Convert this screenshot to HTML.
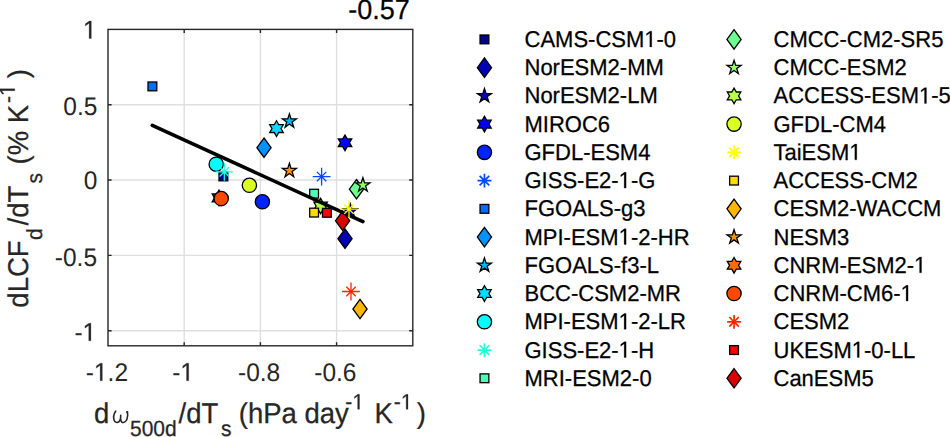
<!DOCTYPE html>
<html><head><meta charset="utf-8"><style>
html,body{margin:0;padding:0;background:#fff;width:950px;height:437px;overflow:hidden}
svg{display:block;font-family:"Liberation Sans",sans-serif;text-rendering:geometricPrecision}
text{stroke-width:0.25px}
.h1{fill-opacity:0;stroke-opacity:0}
</style></head><body>
<svg width="950" height="437" viewBox="0 0 950 437" font-family="Liberation Sans, sans-serif"><path d="M184.20 29.40V345.80M260.40 29.40V345.80M336.60 29.40V345.80M108.00 104.73H412.80M108.00 180.07H412.80M108.00 255.40H412.80M108.00 330.73H412.80" stroke="#dfdfdf" stroke-width="1.4" fill="none"/>
<rect x="219.00" y="172.00" width="8.80" height="8.80" fill="#000092" stroke="#000" stroke-width="1.30" stroke-linejoin="miter"/>
<polygon points="345.00,229.00 352.10,238.70 345.00,248.40 337.90,238.70" fill="#0000b6" stroke="#000" stroke-width="1.30" stroke-linejoin="miter"/>
<polygon points="350.20,203.60 351.86,208.71 357.24,208.71 352.89,211.87 354.55,216.99 350.20,213.83 345.85,216.99 347.51,211.87 343.16,208.71 348.54,208.71" fill="#0000db" stroke="#000" stroke-width="1.30" stroke-linejoin="miter"/>
<polygon points="345.00,135.00 347.25,138.90 351.75,138.90 349.50,142.80 351.75,146.70 347.25,146.70 345.00,150.60 342.75,146.70 338.25,146.70 340.50,142.80 338.25,138.90 342.75,138.90" fill="#0000ff" stroke="#000" stroke-width="1.30" stroke-linejoin="miter"/>
<circle cx="262.40" cy="201.80" r="7.15" fill="#0024ff" stroke="#000" stroke-width="1.30" stroke-linejoin="miter"/>
<rect x="148.00" y="82.00" width="8.80" height="8.80" fill="#006dff" stroke="#000" stroke-width="1.30" stroke-linejoin="miter"/>
<polygon points="264.00,138.00 271.10,147.70 264.00,157.40 256.90,147.70" fill="#0092ff" stroke="#000" stroke-width="1.30" stroke-linejoin="miter"/>
<polygon points="289.40,113.80 291.06,118.91 296.44,118.91 292.09,122.07 293.75,127.19 289.40,124.03 285.05,127.19 286.71,122.07 282.36,118.91 287.74,118.91" fill="#00b6ff" stroke="#000" stroke-width="1.30" stroke-linejoin="miter"/>
<polygon points="276.50,120.80 278.75,124.70 283.25,124.70 281.00,128.60 283.25,132.50 278.75,132.50 276.50,136.40 274.25,132.50 269.75,132.50 272.00,128.60 269.75,124.70 274.25,124.70" fill="#00dbff" stroke="#000" stroke-width="1.30" stroke-linejoin="miter"/>
<circle cx="216.20" cy="164.20" r="7.15" fill="#00ffff" stroke="#000" stroke-width="1.30" stroke-linejoin="miter"/>
<rect x="309.70" y="189.30" width="8.80" height="8.80" fill="#49ffb6" stroke="#000" stroke-width="1.30" stroke-linejoin="miter"/>
<polygon points="356.50,179.50 363.60,189.20 356.50,198.90 349.40,189.20" fill="#6dff92" stroke="#000" stroke-width="1.30" stroke-linejoin="miter"/>
<polygon points="362.90,177.70 364.56,182.81 369.94,182.81 365.59,185.97 367.25,191.09 362.90,187.93 358.55,191.09 360.21,185.97 355.86,182.81 361.24,182.81" fill="#92ff6d" stroke="#000" stroke-width="1.30" stroke-linejoin="miter"/>
<polygon points="320.60,198.20 322.85,202.10 327.35,202.10 325.10,206.00 327.35,209.90 322.85,209.90 320.60,213.80 318.35,209.90 313.85,209.90 316.10,206.00 313.85,202.10 318.35,202.10" fill="#b6ff49" stroke="#000" stroke-width="1.30" stroke-linejoin="miter"/>
<circle cx="249.40" cy="185.30" r="7.15" fill="#dbff24" stroke="#000" stroke-width="1.30" stroke-linejoin="miter"/>
<rect x="309.70" y="208.20" width="8.80" height="8.80" fill="#ffdb00" stroke="#000" stroke-width="1.30" stroke-linejoin="miter"/>
<polygon points="360.00,299.30 367.10,309.00 360.00,318.70 352.90,309.00" fill="#ffb600" stroke="#000" stroke-width="1.30" stroke-linejoin="miter"/>
<polygon points="289.40,163.30 291.06,168.41 296.44,168.41 292.09,171.57 293.75,176.69 289.40,173.53 285.05,176.69 286.71,171.57 282.36,168.41 287.74,168.41" fill="#ff9200" stroke="#000" stroke-width="1.30" stroke-linejoin="miter"/>
<polygon points="219.00,190.10 221.25,194.00 225.75,194.00 223.50,197.90 225.75,201.80 221.25,201.80 219.00,205.70 216.75,201.80 212.25,201.80 214.50,197.90 212.25,194.00 216.75,194.00" fill="#ff6d00" stroke="#000" stroke-width="1.30" stroke-linejoin="miter"/>
<circle cx="221.20" cy="198.60" r="7.15" fill="#ff4900" stroke="#000" stroke-width="1.30" stroke-linejoin="miter"/>
<rect x="322.50" y="208.40" width="8.80" height="8.80" fill="#ff0000" stroke="#000" stroke-width="1.30" stroke-linejoin="miter"/>
<polygon points="342.60,211.10 349.70,220.80 342.60,230.50 335.50,220.80" fill="#db0000" stroke="#000" stroke-width="1.30" stroke-linejoin="miter"/>
<path d="M152.3 125.4L362.9 221.6" stroke="#000" stroke-width="3.6" stroke-linecap="round" fill="none"/>
<path d="M312.70 176.60H330.50M321.60 167.70V185.50M316.90 171.90L326.30 181.30M316.90 181.30L326.30 171.90" stroke="#0049ff" stroke-width="1.30" fill="none"/>
<path d="M215.40 171.80H233.20M224.30 162.90V180.70M219.60 167.10L229.00 176.50M219.60 176.50L229.00 167.10" stroke="#24ffdb" stroke-width="1.30" fill="none"/>
<path d="M340.10 209.20H357.90M349.00 200.30V218.10M344.30 204.50L353.70 213.90M344.30 213.90L353.70 204.50" stroke="#ffff00" stroke-width="1.30" fill="none"/>
<path d="M342.10 291.50H359.90M351.00 282.60V300.40M346.30 286.80L355.70 296.20M346.30 296.20L355.70 286.80" stroke="#ff2400" stroke-width="1.30" fill="none"/>
<path d="M184.20 345.80V342.20M184.20 29.40V33.00M260.40 345.80V342.20M260.40 29.40V33.00M336.60 345.80V342.20M336.60 29.40V33.00M108.00 104.73H111.60M412.80 104.73H409.20M108.00 180.07H111.60M412.80 180.07H409.20M108.00 255.40H111.60M412.80 255.40H409.20M108.00 330.73H111.60M412.80 330.73H409.20" stroke="#262626" stroke-width="1.4" fill="none"/>
<rect x="108.00" y="29.40" width="304.80" height="316.40" stroke="#262626" stroke-width="1.4" fill="none"/>
<g font-size="24.5" fill="#262626"><text transform="translate(85.81 380.70) scale(1 1.040)">-<tspan class="h1">1</tspan>.2</text><text transform="translate(172.21 380.70) scale(1 1.040)">-<tspan class="h1">1</tspan></text><text transform="translate(237.98 380.70) scale(1 1.040)">-0.8</text><text transform="translate(314.24 380.70) scale(1 1.040)">-0.6</text><text transform="translate(82.97 38.52) scale(1 1.040)"><tspan class="h1">1</tspan></text><text transform="translate(63.37 114.97) scale(1 1.040)">0.5</text><text transform="translate(83.73 189.47) scale(1 1.040)">0</text><text transform="translate(54.81 265.67) scale(1 1.040)">-0.5</text><text transform="translate(74.42 340.77) scale(1 1.040)">-<tspan class="h1">1</tspan></text></g>
<text transform="translate(409.80 18.60) scale(1 1.040)" text-anchor="end" font-size="27" fill="#000" stroke="#000">-0.57</text>
<path d="M115.7 411.2C114.0 413.5 113.2 417.5 114.2 420.6C115.0 423.0 118.6 423.2 119.8 420.6C120.6 418.8 120.8 416.5 120.7 415.2C120.5 417.5 120.4 420.5 121.6 421.8C123.3 423.4 126.0 422.0 127.0 419.0C127.8 416.8 127.8 413.5 127.3 412.0" fill="none" stroke="#262626" stroke-width="1.6" stroke-linecap="round" stroke-linejoin="round"/><circle cx="127.2" cy="412.1" r="1.15" fill="#262626"/>
<g fill="#262626" stroke="#262626"><text transform="translate(94.05 423.30) scale(1 1.040)" font-size="27.5">d</text><text transform="translate(129.96 436.00) scale(1 1.040)" font-size="21.0">500d</text><text transform="translate(178.60 423.30) scale(1 1.040)" font-size="27.5">/dT</text><text transform="translate(220.92 436.00) scale(1 1.040)" font-size="21.0">s</text><text transform="translate(238.79 423.30) scale(1 1.040)" font-size="27.5">(hPa day</text><text transform="translate(345.37 409.30) scale(1 1.040)" font-size="21.0">-<tspan class="h1">1</tspan></text><text transform="translate(374.54 423.30) scale(1 1.040)" font-size="27.5">K</text><text transform="translate(393.87 409.30) scale(1 1.040)" font-size="21.0">-<tspan class="h1">1</tspan></text><text transform="translate(416.74 423.30) scale(1 1.040)" font-size="27.5">)</text></g>
<g fill="#262626" stroke="#262626" transform="translate(28.40,306.50) rotate(-90)"><text transform="translate(-1.15 0.00) scale(1 1.040)" font-size="27.5">dLCF</text><text transform="translate(66.42 13.60) scale(1 1.040)" font-size="21.0">d</text><text transform="translate(81.00 0.00) scale(1 1.040)" font-size="27.5">/dT</text><text transform="translate(123.02 13.60) scale(1 1.040)" font-size="21.0">s</text><text transform="translate(141.99 0.00) scale(1 1.040)" font-size="27.5">(%</text><text transform="translate(183.24 0.00) scale(1 1.040)" font-size="27.5">K</text><text transform="translate(203.57 -13.60) scale(1 1.040)" font-size="21.0">-<tspan class="h1">1</tspan></text><text transform="translate(228.34 0.00) scale(1 1.040)" font-size="27.5">)</text></g>
<rect x="480.05" y="35.00" width="8.80" height="8.80" fill="#000092" stroke="#000" stroke-width="1.30" stroke-linejoin="miter"/><text transform="translate(524.50 46.90) scale(1 1.040)" font-size="22" fill="#000" stroke="#000">CAMS-CSM<tspan class="h1">1</tspan>-0</text><polygon points="484.45,57.94 491.55,67.64 484.45,77.34 477.35,67.64" fill="#0000b6" stroke="#000" stroke-width="1.30" stroke-linejoin="miter"/><text transform="translate(524.50 75.14) scale(1 1.040)" font-size="22" fill="#000" stroke="#000">NorESM2-MM</text><polygon points="484.45,88.48 486.11,93.59 491.49,93.59 487.14,96.75 488.80,101.87 484.45,98.71 480.10,101.87 481.76,96.75 477.41,93.59 482.79,93.59" fill="#0000db" stroke="#000" stroke-width="1.30" stroke-linejoin="miter"/><text transform="translate(524.50 103.38) scale(1 1.040)" font-size="22" fill="#000" stroke="#000">NorESM2-LM</text><polygon points="484.45,116.32 486.70,120.22 491.20,120.22 488.95,124.12 491.20,128.02 486.70,128.02 484.45,131.92 482.20,128.02 477.70,128.02 479.95,124.12 477.70,120.22 482.20,120.22" fill="#0000ff" stroke="#000" stroke-width="1.30" stroke-linejoin="miter"/><text transform="translate(524.50 131.62) scale(1 1.040)" font-size="22" fill="#000" stroke="#000">MIROC6</text><circle cx="484.45" cy="152.36" r="7.15" fill="#0024ff" stroke="#000" stroke-width="1.30" stroke-linejoin="miter"/><text transform="translate(524.50 159.86) scale(1 1.040)" font-size="22" fill="#000" stroke="#000">GFDL-ESM4</text><path d="M477.55 180.60H491.35M484.45 173.70V187.50M479.65 175.80L489.25 185.40M479.65 185.40L489.25 175.80" stroke="#0049ff" stroke-width="1.70" fill="none"/><text transform="translate(524.50 188.10) scale(1 1.040)" font-size="22" fill="#000" stroke="#000">GISS-E2-<tspan class="h1">1</tspan>-G</text><rect x="480.05" y="204.44" width="8.80" height="8.80" fill="#006dff" stroke="#000" stroke-width="1.30" stroke-linejoin="miter"/><text transform="translate(524.50 216.34) scale(1 1.040)" font-size="22" fill="#000" stroke="#000">FGOALS-g3</text><polygon points="484.45,227.38 491.55,237.08 484.45,246.78 477.35,237.08" fill="#0092ff" stroke="#000" stroke-width="1.30" stroke-linejoin="miter"/><text transform="translate(524.50 244.58) scale(1 1.040)" font-size="22" fill="#000" stroke="#000">MPI-ESM<tspan class="h1">1</tspan>-2-HR</text><polygon points="484.45,257.92 486.11,263.03 491.49,263.03 487.14,266.19 488.80,271.31 484.45,268.15 480.10,271.31 481.76,266.19 477.41,263.03 482.79,263.03" fill="#00b6ff" stroke="#000" stroke-width="1.30" stroke-linejoin="miter"/><text transform="translate(524.50 272.82) scale(1 1.040)" font-size="22" fill="#000" stroke="#000">FGOALS-f3-L</text><polygon points="484.45,285.76 486.70,289.66 491.20,289.66 488.95,293.56 491.20,297.46 486.70,297.46 484.45,301.36 482.20,297.46 477.70,297.46 479.95,293.56 477.70,289.66 482.20,289.66" fill="#00dbff" stroke="#000" stroke-width="1.30" stroke-linejoin="miter"/><text transform="translate(524.50 301.06) scale(1 1.040)" font-size="22" fill="#000" stroke="#000">BCC-CSM2-MR</text><circle cx="484.45" cy="321.80" r="7.15" fill="#00ffff" stroke="#000" stroke-width="1.30" stroke-linejoin="miter"/><text transform="translate(524.50 329.30) scale(1 1.040)" font-size="22" fill="#000" stroke="#000">MPI-ESM<tspan class="h1">1</tspan>-2-LR</text><path d="M477.55 350.04H491.35M484.45 343.14V356.94M479.65 345.24L489.25 354.84M479.65 354.84L489.25 345.24" stroke="#24ffdb" stroke-width="1.70" fill="none"/><text transform="translate(524.50 357.54) scale(1 1.040)" font-size="22" fill="#000" stroke="#000">GISS-E2-<tspan class="h1">1</tspan>-H</text><rect x="480.05" y="373.88" width="8.80" height="8.80" fill="#49ffb6" stroke="#000" stroke-width="1.30" stroke-linejoin="miter"/><text transform="translate(524.50 385.78) scale(1 1.040)" font-size="22" fill="#000" stroke="#000">MRI-ESM2-0</text><polygon points="734.05,29.70 741.15,39.40 734.05,49.10 726.95,39.40" fill="#6dff92" stroke="#000" stroke-width="1.30" stroke-linejoin="miter"/><text transform="translate(773.50 46.90) scale(1 1.040)" font-size="22" fill="#000" stroke="#000">CMCC-CM2-SR5</text><polygon points="734.05,60.24 735.71,65.35 741.09,65.35 736.74,68.51 738.40,73.63 734.05,70.47 729.70,73.63 731.36,68.51 727.01,65.35 732.39,65.35" fill="#92ff6d" stroke="#000" stroke-width="1.30" stroke-linejoin="miter"/><text transform="translate(773.50 75.14) scale(1 1.040)" font-size="22" fill="#000" stroke="#000">CMCC-ESM2</text><polygon points="734.05,88.08 736.30,91.98 740.80,91.98 738.55,95.88 740.80,99.78 736.30,99.78 734.05,103.68 731.80,99.78 727.30,99.78 729.55,95.88 727.30,91.98 731.80,91.98" fill="#b6ff49" stroke="#000" stroke-width="1.30" stroke-linejoin="miter"/><text transform="translate(773.50 103.38) scale(1 1.040)" font-size="22" fill="#000" stroke="#000">ACCESS-ESM<tspan class="h1">1</tspan>-5</text><circle cx="734.05" cy="124.12" r="7.15" fill="#dbff24" stroke="#000" stroke-width="1.30" stroke-linejoin="miter"/><text transform="translate(773.50 131.62) scale(1 1.040)" font-size="22" fill="#000" stroke="#000">GFDL-CM4</text><path d="M727.15 152.36H740.95M734.05 145.46V159.26M729.25 147.56L738.85 157.16M729.25 157.16L738.85 147.56" stroke="#ffff00" stroke-width="1.70" fill="none"/><text transform="translate(773.50 159.86) scale(1 1.040)" font-size="22" fill="#000" stroke="#000">TaiESM<tspan class="h1">1</tspan></text><rect x="729.65" y="176.20" width="8.80" height="8.80" fill="#ffdb00" stroke="#000" stroke-width="1.30" stroke-linejoin="miter"/><text transform="translate(773.50 188.10) scale(1 1.040)" font-size="22" fill="#000" stroke="#000">ACCESS-CM2</text><polygon points="734.05,199.14 741.15,208.84 734.05,218.54 726.95,208.84" fill="#ffb600" stroke="#000" stroke-width="1.30" stroke-linejoin="miter"/><text transform="translate(773.50 216.34) scale(1 1.040)" font-size="22" fill="#000" stroke="#000">CESM2-WACCM</text><polygon points="734.05,229.68 735.71,234.79 741.09,234.79 736.74,237.95 738.40,243.07 734.05,239.91 729.70,243.07 731.36,237.95 727.01,234.79 732.39,234.79" fill="#ff9200" stroke="#000" stroke-width="1.30" stroke-linejoin="miter"/><text transform="translate(773.50 244.58) scale(1 1.040)" font-size="22" fill="#000" stroke="#000">NESM3</text><polygon points="734.05,257.52 736.30,261.42 740.80,261.42 738.55,265.32 740.80,269.22 736.30,269.22 734.05,273.12 731.80,269.22 727.30,269.22 729.55,265.32 727.30,261.42 731.80,261.42" fill="#ff6d00" stroke="#000" stroke-width="1.30" stroke-linejoin="miter"/><text transform="translate(773.50 272.82) scale(1 1.040)" font-size="22" fill="#000" stroke="#000">CNRM-ESM2-<tspan class="h1">1</tspan></text><circle cx="734.05" cy="293.56" r="7.15" fill="#ff4900" stroke="#000" stroke-width="1.30" stroke-linejoin="miter"/><text transform="translate(773.50 301.06) scale(1 1.040)" font-size="22" fill="#000" stroke="#000">CNRM-CM6-<tspan class="h1">1</tspan></text><path d="M727.15 321.80H740.95M734.05 314.90V328.70M729.25 317.00L738.85 326.60M729.25 326.60L738.85 317.00" stroke="#ff2400" stroke-width="1.70" fill="none"/><text transform="translate(773.50 329.30) scale(1 1.040)" font-size="22" fill="#000" stroke="#000">CESM2</text><rect x="729.65" y="345.64" width="8.80" height="8.80" fill="#ff0000" stroke="#000" stroke-width="1.30" stroke-linejoin="miter"/><text transform="translate(773.50 357.54) scale(1 1.040)" font-size="22" fill="#000" stroke="#000">UKESM<tspan class="h1">1</tspan>-0-LL</text><polygon points="734.05,368.58 741.15,378.28 734.05,387.98 726.95,378.28" fill="#db0000" stroke="#000" stroke-width="1.30" stroke-linejoin="miter"/><text transform="translate(773.50 385.78) scale(1 1.040)" font-size="22" fill="#000" stroke="#000">CanESM5</text><g><path transform="matrix(0.01196 0.00000 0.00000 -0.01244 93.982 380.700)" d="M515 0V1237L197 1010V1180L530 1409H696V0Z" fill="rgb(38, 38, 38)" stroke="rgb(38, 38, 38)" stroke-width="20.9"/><path transform="matrix(0.01196 0.00000 0.00000 -0.01244 180.382 380.700)" d="M515 0V1237L197 1010V1180L530 1409H696V0Z" fill="rgb(38, 38, 38)" stroke="rgb(38, 38, 38)" stroke-width="20.9"/><path transform="matrix(0.01196 0.00000 0.00000 -0.01244 82.970 38.520)" d="M515 0V1237L197 1010V1180L530 1409H696V0Z" fill="rgb(38, 38, 38)" stroke="rgb(38, 38, 38)" stroke-width="20.9"/><path transform="matrix(0.01196 0.00000 0.00000 -0.01244 82.592 340.770)" d="M515 0V1237L197 1010V1180L530 1409H696V0Z" fill="rgb(38, 38, 38)" stroke="rgb(38, 38, 38)" stroke-width="20.9"/><path transform="matrix(0.01025 0.00000 0.00000 -0.01066 352.370 409.300)" d="M515 0V1237L197 1010V1180L530 1409H696V0Z" fill="rgb(38, 38, 38)" stroke="rgb(38, 38, 38)" stroke-width="24.4"/><path transform="matrix(0.01025 0.00000 0.00000 -0.01066 400.870 409.300)" d="M515 0V1237L197 1010V1180L530 1409H696V0Z" fill="rgb(38, 38, 38)" stroke="rgb(38, 38, 38)" stroke-width="24.4"/><path transform="matrix(0.00000 -0.01025 -0.01066 0.00000 14.800 95.930)" d="M515 0V1237L197 1010V1180L530 1409H696V0Z" fill="rgb(38, 38, 38)" stroke="rgb(38, 38, 38)" stroke-width="24.4"/><path transform="matrix(0.01074 0.00000 0.00000 -0.01117 644.281 46.900)" d="M515 0V1237L197 1010V1180L530 1409H696V0Z" fill="rgb(0, 0, 0)" stroke="rgb(0, 0, 0)" stroke-width="23.3"/><path transform="matrix(0.01074 0.00000 0.00000 -0.01117 618.641 188.100)" d="M515 0V1237L197 1010V1180L530 1409H696V0Z" fill="rgb(0, 0, 0)" stroke="rgb(0, 0, 0)" stroke-width="23.3"/><path transform="matrix(0.01074 0.00000 0.00000 -0.01117 618.625 244.580)" d="M515 0V1237L197 1010V1180L530 1409H696V0Z" fill="rgb(0, 0, 0)" stroke="rgb(0, 0, 0)" stroke-width="23.3"/><path transform="matrix(0.01074 0.00000 0.00000 -0.01117 618.625 329.300)" d="M515 0V1237L197 1010V1180L530 1409H696V0Z" fill="rgb(0, 0, 0)" stroke="rgb(0, 0, 0)" stroke-width="23.3"/><path transform="matrix(0.01074 0.00000 0.00000 -0.01117 618.641 357.540)" d="M515 0V1237L197 1010V1180L530 1409H696V0Z" fill="rgb(0, 0, 0)" stroke="rgb(0, 0, 0)" stroke-width="23.3"/><path transform="matrix(0.01074 0.00000 0.00000 -0.01117 918.984 103.380)" d="M515 0V1237L197 1010V1180L530 1409H696V0Z" fill="rgb(0, 0, 0)" stroke="rgb(0, 0, 0)" stroke-width="23.3"/><path transform="matrix(0.01074 0.00000 0.00000 -0.01117 849.297 159.860)" d="M515 0V1237L197 1010V1180L530 1409H696V0Z" fill="rgb(0, 0, 0)" stroke="rgb(0, 0, 0)" stroke-width="23.3"/><path transform="matrix(0.01074 0.00000 0.00000 -0.01117 914.062 272.820)" d="M515 0V1237L197 1010V1180L530 1409H696V0Z" fill="rgb(0, 0, 0)" stroke="rgb(0, 0, 0)" stroke-width="23.3"/><path transform="matrix(0.01074 0.00000 0.00000 -0.01117 900.594 301.060)" d="M515 0V1237L197 1010V1180L530 1409H696V0Z" fill="rgb(0, 0, 0)" stroke="rgb(0, 0, 0)" stroke-width="23.3"/><path transform="matrix(0.01074 0.00000 0.00000 -0.01117 851.750 357.540)" d="M515 0V1237L197 1010V1180L530 1409H696V0Z" fill="rgb(0, 0, 0)" stroke="rgb(0, 0, 0)" stroke-width="23.3"/></g></svg>
</body></html>
